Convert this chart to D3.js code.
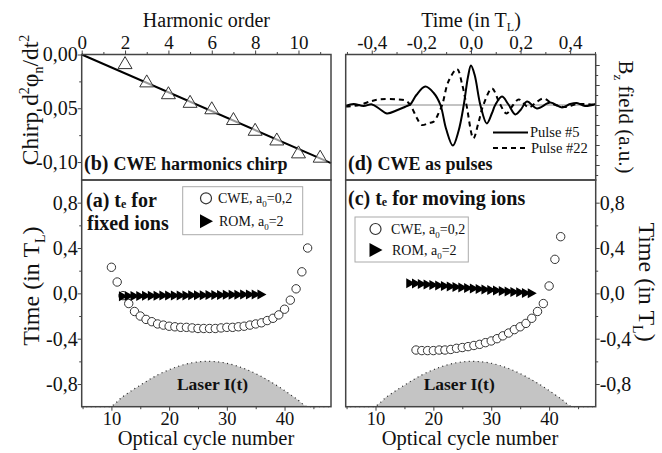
<!DOCTYPE html>
<html><head><meta charset="utf-8">
<script src="https://cdn.jsdelivr.net/npm/d3@7/dist/d3.min.js"></script>
<style>body{margin:0;background:#fff} svg, svg text{font-family:'Liberation Serif','Times New Roman',Tinos,'DejaVu Serif',serif !important}</style>
</head><body><svg id="c" width="662" height="453"></svg>
<script>
// ---------- data ----------
const harmonicOrder = [2,3,4,5,6,7,8,9,10,11];
const chirpValues   = [-0.008,-0.025,-0.036,-0.044,-0.050,-0.060,-0.070,-0.079,-0.091,-0.095];
const fitOrder = [0, 11.5];
const fitChirp = [0, -0.101];
const harmTicks = [0,2,4,6,8,10];
const harmTickLabels = ["0","2","4","6","8","10"];
const harmMinor = [1,3,5,7,9,11];
const chirpTicks = [0,-0.05,-0.10];
const chirpTickLabels = ["0,00","-0,05","-0,10"];
const chirpMinor = [-0.025,-0.075];

const pulse5T = [-0.505,-0.473,-0.433,-0.399,-0.368,-0.339,-0.296,-0.258,-0.245,-0.22,-0.184,-0.15,-0.123,-0.10,-0.073,-0.05,-0.029,-0.012,0.0,0.015,0.038,0.064,0.085,0.098,0.125,0.15,0.179,0.2,0.226,0.266,0.32,0.367,0.40,0.427,0.46,0.503];
const pulse5B = [-0.05,0.05,-0.05,0.03,-0.2,-0.42,-0.25,-0.05,0.02,0.5,0.92,0.6,0,-1.2,-2.03,-1.3,0,1.4,1.97,1.5,0,-0.92,-0.4,0,0.42,0.05,-0.47,-0.25,0.17,-0.17,0.12,-0.12,0.05,0.1,-0.05,0.05];
const pulse22T = [-0.505,-0.45,-0.40,-0.366,-0.30,-0.26,-0.24,-0.22,-0.198,-0.17,-0.15,-0.13,-0.116,-0.09,-0.056,-0.035,-0.018,0.01,0.03,0.05,0.085,0.115,0.143,0.17,0.193,0.233,0.26,0.293,0.33,0.38,0.43,0.503];
const pulse22B = [-0.08,0.0,0.2,0.28,0.28,0.2,-0.1,-0.6,-1.0,-0.9,-0.83,-0.4,0,1.2,1.8,1.0,0,-1.67,-0.9,0,0.83,0.1,-0.42,0,0.28,-0.12,0.1,0.33,0.05,-0.1,0.05,0.0];
const timeTopTicks = [-0.4,-0.2,0,0.2,0.4];
const timeTopLabels = ["-0,4","-0,2","0,0","0,2","0,4"];
const timeTopMinor = [-0.5,-0.3,-0.1,0.1,0.3,0.5];
const bzMajor = [-3,-2,-1,0,1,2];
const bzMinor = [-3.5,-2.5,-1.5,-0.5,0.5,1.5];

const cweFixedCycle = [10,11,12,13,14,15,16,17,18,19,20,21,22,23,24,25,26,27,28,29,30,31,32,33,34,35,36,37,38,39,40,41,42,43,44];
const cweFixedTime  = [0.23,0.10,-0.02,-0.09,-0.16,-0.20,-0.23,-0.25,-0.27,-0.28,-0.29,-0.295,-0.30,-0.30,-0.305,-0.31,-0.31,-0.31,-0.31,-0.305,-0.30,-0.30,-0.295,-0.29,-0.28,-0.27,-0.26,-0.24,-0.22,-0.19,-0.14,-0.06,0.04,0.19,0.40];
const romFixedCycle = [12,13,14,15,16,17,18,19,20,21,22,23,24,25,26,27,28,29,30,31,32,33,34,35,36];
const romFixedTime  = [-0.025,-0.024,-0.024,-0.023,-0.022,-0.022,-0.021,-0.020,-0.020,-0.019,-0.018,-0.018,-0.017,-0.016,-0.016,-0.015,-0.014,-0.014,-0.013,-0.012,-0.012,-0.011,-0.010,-0.010,-0.010];
const cweMovingCycle = [17,18,19,20,21,22,23,24,25,26,27,28,29,30,31,32,33,34,35,36,37,38,39,40,41,42];
const cweMovingTime  = [-0.50,-0.505,-0.505,-0.505,-0.50,-0.50,-0.495,-0.485,-0.478,-0.47,-0.46,-0.45,-0.435,-0.42,-0.40,-0.375,-0.35,-0.32,-0.295,-0.265,-0.22,-0.16,-0.09,0.065,0.30,0.50];
const romMovingCycle = [16,17,18,19,20,21,22,23,24,25,26,27,28,29,30,31,32,33,34,35,36,37];
const romMovingTime  = [0.090,0.086,0.082,0.077,0.073,0.069,0.064,0.060,0.056,0.051,0.047,0.043,0.039,0.034,0.030,0.026,0.021,0.017,0.013,0.009,0.004,0.000];
const laserCycle = [4.85,9.6,12,15,18,21,24,26.8,30,33,36,39,42,44.1,48.05];
const laserI     = [-1,-1,-0.91,-0.81,-0.72,-0.654,-0.612,-0.60,-0.617,-0.663,-0.734,-0.824,-0.928,-1,-1];
const cycleTicks = [10,20,30,40];
const cycleTickLabels = ["10","20","30","40"];
const cycleMinor = [5,15,25,35,45];
const timeTicks = [0.8,0.4,0,-0.4,-0.8];
const timeTickLabels = ["0,8","0,4","0,0","-0,4","-0,8"];
const timeMinor = [0.6,0.2,-0.2,-0.6];

// ---------- layout ----------
const svg = d3.select("#c");
const L = {x0:81.7, x1:331}, R = {x0:345.7, x1:595.7};
const T = {y0:54.5, y1:180}, B = {y0:180, y1:406.7};
const frameColor = "#444";

const xH = d3.scaleLinear().domain([0,11.5]).range([L.x0,L.x1]);
const yC = d3.scaleLinear().domain([-0.1167,0]).range([T.y1,T.y0]);
const xT = d3.scaleLinear().domain([-0.505,0.503]).range([R.x0,R.x1]);
const yBz = d3.scaleLinear().domain([-3.75,2.525]).range([T.y1,T.y0]);
const xCycL = d3.scaleLinear().domain([4.85,48.05]).range([L.x0,L.x1]);
const xCycR = d3.scaleLinear().domain([4.85,48.05]).range([R.x0,R.x1]);
const yTime = d3.scaleLinear().domain([-1,1]).range([B.y1,B.y0]);

function axis(gen, tr, values, labels, size, pad, fs){
  const g = svg.append("g").attr("transform", tr)
    .call(gen.tickValues(values).tickSize(size).tickPadding(pad)
      .tickFormat((d,i)=> labels ? labels[i] : ""));
  g.select(".domain").remove();
  g.attr("font-family", null).attr("font-size", fs || 19);
  g.selectAll("line").attr("stroke", frameColor).attr("stroke-width", 1);
  g.selectAll("text").attr("fill", "#111");
  return g;
}
function rich(x, y, parts, opts={}){
  const t = svg.append("text").attr("x", x).attr("y", y).attr("fill", "#111");
  if (opts.size) t.attr("font-size", opts.size);
  if (opts.weight) t.attr("font-weight", opts.weight);
  if (opts.anchor) t.attr("text-anchor", opts.anchor);
  if (opts.transform) t.attr("transform", opts.transform);
  parts.forEach(p => {
    const s = t.append("tspan").text(p.t);
    if (p.fs) s.attr("font-size", p.fs);
    if (p.dy) s.attr("dy", p.dy);
  });
  return t;
}

// ---------- panel (b) ----------
axis(d3.axisTop(xH), `translate(0,${T.y0})`, harmTicks, harmTickLabels, 4, 2);
axis(d3.axisTop(xH), `translate(0,${T.y0})`, harmMinor, null, 2.5, 2);
axis(d3.axisLeft(yC), `translate(${L.x0},0)`, chirpTicks, chirpTickLabels, 4, 0, 20);
axis(d3.axisLeft(yC), `translate(${L.x0},0)`, chirpMinor, null, 2.5, 0);

svg.append("path").datum(fitOrder.map((d,i)=>[d, fitChirp[i]]))
  .attr("d", d3.line().x(d=>xH(d[0])).y(d=>yC(d[1])))
  .attr("stroke", "#000").attr("stroke-width", 2).attr("fill", "none");
svg.append("g").selectAll("path").data(harmonicOrder.map((d,i)=>[d, chirpValues[i]]))
  .join("path").attr("transform", d=>`translate(${xH(d[0])},${yC(d[1])})`)
  .attr("d", "M0,-6.5L7,5.5L-7,5.5Z").attr("fill", "#fff").attr("fill-opacity", 0.6)
  .attr("stroke", "#333").attr("stroke-width", 1);

// ---------- panel (d) ----------
axis(d3.axisTop(xT), `translate(0,${T.y0})`, timeTopTicks, timeTopLabels, 4, 2);
axis(d3.axisTop(xT), `translate(0,${T.y0})`, timeTopMinor, null, 2.5, 2);
axis(d3.axisRight(yBz), `translate(${R.x1},0)`, bzMajor, null, 4, 0);
axis(d3.axisRight(yBz), `translate(${R.x1},0)`, bzMinor, null, 2.5, 0);

svg.append("line").attr("x1", R.x0).attr("x2", R.x1).attr("y1", yBz(0)).attr("y2", yBz(0))
  .attr("stroke", "#888").attr("stroke-width", 1);
const pulseLine = d3.line().x(d=>xT(d[0])).y(d=>yBz(d[1])).curve(d3.curveCatmullRom.alpha(0.5));
svg.append("path").datum(pulse22T.map((d,i)=>[d, pulse22B[i]]))
  .attr("d", pulseLine).attr("fill","none").attr("stroke","#000").attr("stroke-width",2)
  .attr("stroke-dasharray","5,4");
svg.append("path").datum(pulse5T.map((d,i)=>[d, pulse5B[i]]))
  .attr("d", pulseLine).attr("fill","none").attr("stroke","#000").attr("stroke-width",2);

// legend (d)
svg.append("line").attr("x1",493).attr("x2",528).attr("y1",132.5).attr("y2",132.5)
  .attr("stroke","#000").attr("stroke-width",2);
svg.append("line").attr("x1",493).attr("x2",528).attr("y1",148).attr("y2",148)
  .attr("stroke","#000").attr("stroke-width",2).attr("stroke-dasharray","5,4");
rich(530, 137, [{t:"Pulse #5"}], {size:14.5});
rich(531, 153, [{t:"Pulse #22"}], {size:14.5});

// ---------- lower panels ----------
function lower(xs, side, cwe, cweT, rom, romT, legend, laserX){
  const area = d3.area().x(d=>xs(d[0])).y0(yTime(-1)).y1(d=>yTime(d[1])).curve(d3.curveMonotoneX);
  const ldata = laserCycle.map((d,i)=>[d, laserI[i]]);
  svg.append("path").datum(ldata).attr("d", area).attr("fill", "#c4c4c4");
  svg.append("path").datum(ldata)
    .attr("d", d3.line().x(d=>xs(d[0])).y(d=>yTime(d[1])).curve(d3.curveMonotoneX))
    .attr("fill","none").attr("stroke","#222").attr("stroke-width",1.2).attr("stroke-dasharray","1,3.5");
  rich(laserX, 390, [{t:"Laser I(t)"}], {size:17.5, weight:"bold", anchor:"middle"});

  axis(d3.axisBottom(xs), `translate(0,${B.y1})`, cycleTicks, cycleTickLabels, 4, 1, 18.5);
  axis(d3.axisBottom(xs), `translate(0,${B.y1})`, cycleMinor, null, 2.5, 1);
  if (side === "left"){
    axis(d3.axisLeft(yTime), `translate(${L.x0},0)`, timeTicks, timeTickLabels, 4, 0, 20);
    axis(d3.axisLeft(yTime), `translate(${L.x0},0)`, timeMinor, null, 2.5, 0);
  } else {
    axis(d3.axisRight(yTime), `translate(${R.x1},0)`, timeTicks, timeTickLabels, 4, 0, 20);
    axis(d3.axisRight(yTime), `translate(${R.x1},0)`, timeMinor, null, 2.5, 0);
  }
  svg.append("g").selectAll("circle").data(cwe.map((d,i)=>[d, cweT[i]])).join("circle")
    .attr("cx", d=>xs(d[0])).attr("cy", d=>yTime(d[1])).attr("r", 4.2)
    .attr("fill","#fff").attr("stroke","#333").attr("stroke-width",1);
  svg.append("g").selectAll("path").data(rom.map((d,i)=>[d, romT[i]])).join("path")
    .attr("transform", d=>`translate(${xs(d[0])},${yTime(d[1])})`)
    .attr("d","M-4,-5L5,0L-4,5Z").attr("fill","#000");

  // legend box
  svg.append("rect").attr("x", legend.x).attr("y", legend.y).attr("width", legend.w).attr("height", legend.h)
    .attr("fill","#fff").attr("stroke","#aaa").attr("stroke-width",1);
  svg.append("circle").attr("cx", legend.mx).attr("cy", legend.y1).attr("r",5.5)
    .attr("fill","#fff").attr("stroke","#333").attr("stroke-width",1.2);
  svg.append("path").attr("transform", `translate(${legend.mx},${legend.y2})`)
    .attr("d","M-6,-7L7,0L-6,7Z").attr("fill","#000");
  rich(legend.tx, legend.y1+5, [{t:"CWE, a"},{t:"0",fs:9,dy:4},{t:"=0,2",dy:-4}], {size:14});
  rich(legend.tx+1, legend.y2+5, [{t:"ROM, a"},{t:"0",fs:9,dy:4},{t:"=2",dy:-4}], {size:14});
}

lower(xCycL, "left", cweFixedCycle, cweFixedTime, romFixedCycle, romFixedTime,
  {x:182.7, y:186.7, w:120, h:48, mx:206, y1:198.3, y2:221.2, tx:218}, 212.5);
lower(xCycR, "right", cweMovingCycle, cweMovingTime, romMovingCycle, romMovingTime,
  {x:355, y:217, w:113.3, h:45, mx:375.5, y1:229, y2:250, tx:391}, 459.2);

// frames
[[L,T],[R,T],[L,B],[R,B]].forEach(([h,v]) => {
  svg.append("rect").attr("x",h.x0).attr("y",v.y0).attr("width",h.x1-h.x0).attr("height",v.y1-v.y0)
    .attr("fill","none").attr("stroke",frameColor).attr("stroke-width",1.5);
});

// panel labels
rich(84, 170, [{t:"(b) ",fs:20},{t:"CWE harmonics chirp",fs:18}], {weight:"bold"});
rich(348, 170, [{t:"(d) ",fs:20},{t:"CWE as pulses",fs:18}], {weight:"bold"});
rich(86, 206.7, [{t:"(a) t"},{t:"e",fs:12,dy:1},{t:" for",dy:-1}], {size:20, weight:"bold"});
rich(87, 230, [{t:"fixed ions"}], {size:20, weight:"bold"});
rich(348, 205, [{t:"(c) t"},{t:"e",fs:12,dy:1},{t:" for moving ions",dy:-1}], {size:20, weight:"bold"});

// axis titles
rich(206.4, 27, [{t:"Harmonic order"}], {size:20, anchor:"middle"});
rich(471, 26.5, [{t:"Time (in T"},{t:"L",fs:12,dy:4},{t:")",dy:-4}], {size:20, anchor:"middle"});
rich(206, 445, [{t:"Optical cycle number"}], {size:20.5, anchor:"middle"});
rich(470, 445, [{t:"Optical cycle number"}], {size:20.5, anchor:"middle"});
rich(0, 0, [{t:"Chirp d"},{t:"2",fs:14,dy:-9},{t:"φ",dy:9},{t:"n",fs:14,dy:5},{t:"/dt",dy:-5},{t:"2",fs:14,dy:-9}],
  {size:23.5, anchor:"middle", transform:"translate(38,100) rotate(-90)"});
rich(0, 0, [{t:"Time (in T"},{t:"L",fs:14,dy:6},{t:")",dy:-6}],
  {size:24, anchor:"middle", transform:"translate(39,286) rotate(-90)"});
rich(0, 0, [{t:"B"},{t:"z",fs:13,dy:5},{t:" field (a.u.)",dy:-5}],
  {size:21, anchor:"middle", transform:"translate(619,117) rotate(90)"});
rich(0, 0, [{t:"Time (in T"},{t:"L",fs:14,dy:6},{t:")",dy:-6}],
  {size:24, anchor:"middle", transform:"translate(639,282) rotate(90)"});
</script></body></html>
